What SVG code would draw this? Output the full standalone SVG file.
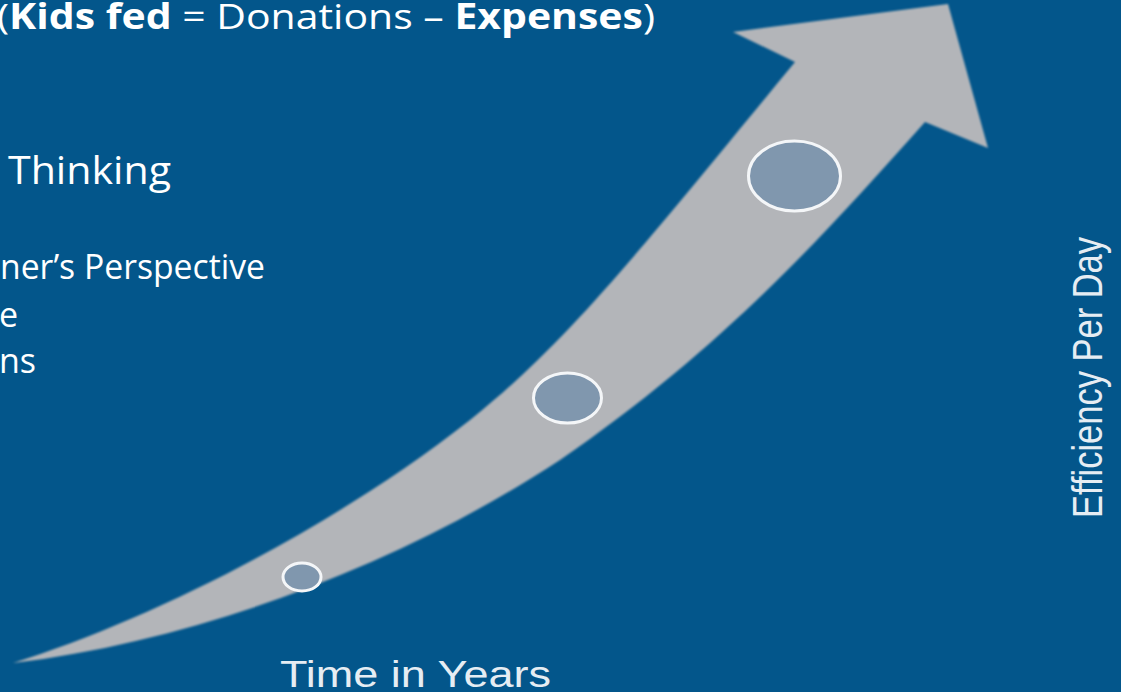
<svg xmlns="http://www.w3.org/2000/svg" width="1121" height="692" viewBox="0 0 1121 692">
  <style>
    .txt { font-family: "Open Sans", "Liberation Sans", sans-serif; fill: #ffffff; }
    .b { font-weight: bold; }
    .axis { font-family: "Liberation Sans", Arial, sans-serif; fill: #e6edf3; }
    .dot { fill: #8097ae; stroke: #f4f6f8; stroke-width: 3; }
  </style>
  <defs>
    <filter id="soft" x="-5%" y="-5%" width="110%" height="110%">
      <feGaussianBlur stdDeviation="0.8"/>
    </filter>
  </defs>
  <rect x="0" y="0" width="1121" height="692" fill="#03568b"/>

  <g id="header">
    <text class="txt" x="-3" y="29" font-size="35" textLength="658" lengthAdjust="spacingAndGlyphs">(<tspan class="b">Kids fed</tspan> = Donations – <tspan class="b">Expenses</tspan>)</text>
  </g>

  <g id="bullets">
    <text class="txt" x="8" y="184" font-size="38" textLength="163" lengthAdjust="spacingAndGlyphs">Thinking</text>
    <text class="txt" x="0" y="279" font-size="34" textLength="265" lengthAdjust="spacingAndGlyphs">ner’s Perspective</text>
    <text class="txt" x="-1" y="327" font-size="34">e</text>
    <text class="txt" x="-1" y="373" font-size="34">ns</text>
  </g>

  <g id="connectors">
    <path id="growth-arrow" filter="url(#soft)" fill="#b3b5b9" d="M13,663 C150,620 330,530 470,420 C570,340 640,250 795,62 L733,32 L948,4 L988,148 L925,122 C820,240 720,350 560,460 C400,565 200,640 13,663 Z"/>
  </g>

  <g id="node-small">
    <ellipse class="dot" cx="302" cy="577" rx="19" ry="14"/>
  </g>
  <g id="node-medium">
    <ellipse class="dot" cx="567.5" cy="398" rx="34" ry="25"/>
  </g>
  <g id="node-large">
    <ellipse class="dot" cx="794.5" cy="176" rx="46" ry="35"/>
  </g>

  <g id="axis-x">
    <text class="axis" x="280" y="687" font-size="36" textLength="271" lengthAdjust="spacingAndGlyphs">Time in Years</text>
  </g>
  <g id="axis-y">
    <text class="axis" transform="translate(1102,518) rotate(-90)" x="0" y="0" font-size="43" textLength="281" lengthAdjust="spacingAndGlyphs">Efficiency Per Day</text>
  </g>
</svg>
